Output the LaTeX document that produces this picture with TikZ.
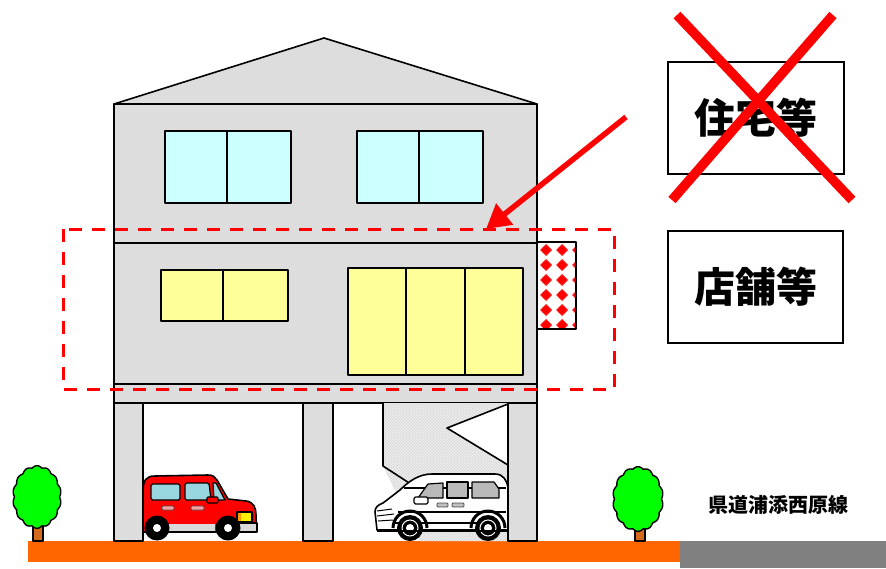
\documentclass[tikz,border=0pt]{standalone}
\usepackage{fontspec}
\newfontfamily\jp{Noto Sans CJK JP}
\usetikzlibrary{arrows.meta,patterns}

\definecolor{wallgray}{HTML}{DDDDDD}
\definecolor{glasscyan}{HTML}{CCFFFF}
\definecolor{glassyellow}{HTML}{FFFF99}
\definecolor{groundorange}{HTML}{FF6600}
\definecolor{roadgray}{HTML}{808080}
\definecolor{leafgreen}{HTML}{00FF00}
\definecolor{trunkbrown}{HTML}{D2691E}
\definecolor{carglass}{HTML}{99D6E0}
\definecolor{handlepink}{HTML}{F4A0A0}

\tikzset{
  outline/.style={draw=black, line width=1.6pt, line join=round},
  wall/.style={outline, fill=wallgray},
  cyanpane/.style={outline, fill=glasscyan},
  yellowpane/.style={outline, fill=glassyellow},
  frameline/.style={draw=red, line width=3pt, dash pattern=on 13pt off 10pt},
  labelbox/.style={draw=black, line width=1.6pt, fill=white, inner sep=0pt,
    font=\jp\bfseries\fontsize{41}{41}\selectfont},
  crossline/.style={draw=red, line width=9.5pt},
  pointer/.style={draw=red, line width=5.5pt, -{Triangle[length=24pt,width=26pt]}},
  wheel/.style={fill=black},
}

\begin{document}
\begin{tikzpicture}[x=1pt, y=-1pt]
\useasboundingbox (0,0) rectangle (886,568);

% ground and road
\fill[groundorange] (28,541) rectangle (680,562);
\fill[roadgray] (680,541) rectangle (886,568);

% roof and building body
\draw[wall] (114,104) -- (324,38) -- (537,104) -- cycle;
\draw[wall] (114,104) rectangle (537,403);
\draw[outline] (114,243) -- (537,243);
\draw[outline] (114,384) -- (537,384);

% third floor windows
\draw[cyanpane] (165,131) rectangle (291,203);
\draw[outline] (227,131) -- (227,203);
\draw[cyanpane] (357,131) rectangle (483,203);
\draw[outline] (419,131) -- (419,203);

% second floor windows
\draw[yellowpane] (161,270) rectangle (288,321);
\draw[outline] (223,270) -- (223,321);
\draw[yellowpane] (348,268) rectangle (523,375);
\draw[outline] (406,268) -- (406,375);
\draw[outline] (465,268) -- (465,375);

% shop sign
\fill[white] (537,242) rectangle (576,329);
\begin{scope}
  \clip (537,242) rectangle (576,329);
  \foreach \sx in {546,562,578} {
    \foreach \sy in {250,265,280,295,310,325} {
      \fill[red!90!white] (\sx,\sy-6) -- (\sx+6,\sy) -- (\sx,\sy+6) -- (\sx-6,\sy) -- cycle;
      \fill[red] (\sx,\sy) circle (4);
    }
  }
\end{scope}
\draw[outline] (537,242) rectangle (576,329);

% stairway under the building
\fill[gray!30] (383,403) -- (508,403) -- (447,428) -- (508,465) -- (508,541) -- (420,541) -- (383,466) -- cycle;
\fill[pattern=crosshatch, pattern color=gray!12] (383,403) -- (508,403) -- (447,428) -- (508,465) -- (508,541) -- (420,541) -- (383,466) -- cycle;
\draw[outline] (383,403) -- (383,466) -- (420,490);
\draw[outline] (508,404) -- (447,428) -- (508,465);

% pillars
\draw[wall] (114,403) rectangle (143,541);
\draw[wall] (303,403) rectangle (333,541);
\draw[wall] (508,403) rectangle (537,541);

% red car
\draw[outline, fill=red] (143,532) -- (143,492) .. controls (143,480) and (146,476) .. (155,476)
  -- (208,475) .. controls (213,475) and (215,477) .. (217,480) -- (228,499)
  -- (246,501) .. controls (254,502) and (256,508) .. (256,515) -- (256,532) -- cycle;
\draw[outline, fill=carglass, line width=1.2pt, rounded corners=1.5pt] (151,484) rectangle (180,500);
\draw[outline, fill=carglass, line width=1.2pt, rounded corners=1.5pt] (185,483) -- (209,483) -- (211,500) -- (185,500) -- cycle;
\draw[outline, fill=carglass, line width=1.2pt] (213,483) -- (216,483) -- (225,500) -- (214,500) -- cycle;
\draw[outline, fill=red, line width=1.2pt, rounded corners=1pt] (207,497) rectangle (218,503);
\draw[draw=black!70, fill=handlepink, line width=0.8pt, rounded corners=1pt] (162,506) rectangle (174,510);
\draw[draw=black!70, fill=handlepink, line width=0.8pt, rounded corners=1pt] (191,506) rectangle (204,510);
\fill[gray!30] (160,524) rectangle (215,532);
\draw[outline, fill=gray!30, line width=1.2pt] (238,523) -- (257,523) -- (257,532) -- (238,532);
\draw[outline, fill=yellow, line width=1.2pt] (237,512) rectangle (252,522);
\fill[orange!80!yellow] (237.8,512.8) rectangle (241,521.2);
\draw[line width=1.8pt] (143,532) -- (257,532);
\foreach \wx in {157,228} {
  \fill[wheel] (\wx,528) circle (12.5);
  \fill[white] (\wx,528) circle (4);
}

% white van
\draw[outline, fill=white] (377,530) -- (375,512) .. controls (375,507) and (378,505) .. (383,503)
  -- (400,490) .. controls (410,480) and (420,474) .. (432,474)
  -- (495,474) .. controls (503,474) and (507,480) .. (508,488) -- (508,530) -- cycle;
\draw[line width=1.2pt] (404,488) -- (506,488);
\draw[outline, fill=gray!55, line width=1.2pt] (418,498) -- (428,484) -- (443,483) -- (443,498) -- cycle;
\draw[outline, fill=gray!55, line width=1.2pt] (447,482) rectangle (468,498);
\draw[outline, fill=gray!55, line width=1.2pt] (472,482) -- (494,482) -- (499,489) -- (499,498) -- (472,498) -- cycle;
\draw[outline, fill=white, line width=1.2pt, rounded corners=1.5pt] (414,497) rectangle (428,504);
\draw[draw=black!70, fill=gray!50, line width=0.8pt, rounded corners=1pt] (437,503) rectangle (448,507);
\draw[draw=black!70, fill=gray!50, line width=0.8pt, rounded corners=1pt] (452,503) rectangle (464,507);
\draw[line width=1pt] (377,511) -- (392,509);
\draw[line width=1pt] (377,516) -- (394,514);
\draw[line width=1pt] (378,521) -- (393,520);
\draw[line width=1.2pt] (398,512) -- (506,512);
\draw[line width=1.2pt] (394,523) -- (478,523);
\foreach \wx in {410,488} {
  \draw[line width=3pt] ([shift={(180:17)}]\wx,528) arc[start angle=180, end angle=360, radius=17];
  \fill[wheel] (\wx,528) circle (13);
  \draw[white, line width=1pt] (\wx,528) circle (8);
  \fill[white] (\wx,528) circle (4);
}
\draw[line width=1.8pt] (377,531) -- (508,531);

% trees
\draw[outline, fill=trunkbrown, line width=1.2pt] (33,522) rectangle (43,541);
\draw[outline, fill=leafgreen, line width=1.4pt] plot[domain=0:358, samples=180, variable=\t]
  ({37+24*(0.94+0.07*abs(sin(7*\t)))*cos(\t)}, {497+31*(0.95+0.06*abs(sin(7*\t)))*sin(\t)}) -- cycle;
\draw[outline, fill=trunkbrown, line width=1.2pt] (635,524) rectangle (645,541);
\draw[outline, fill=leafgreen, line width=1.4pt] plot[domain=0:358, samples=180, variable=\t]
  ({638+25*(0.94+0.07*abs(sin(7*\t)))*cos(\t)}, {499+32*(0.95+0.06*abs(sin(7*\t)))*sin(\t)}) -- cycle;

% shop floor frame and pointer
\draw[frameline] (63,229) rectangle (614,389);
\coordinate (pointertail) at (626,117);
\coordinate (frametop) at (486,229);
\draw[pointer] (pointertail) -- (frametop);

% use labels
\node[labelbox, minimum width=176pt, minimum height=112pt] (housing) at (756,118) {住宅等};
\node[labelbox, minimum width=175pt, minimum height=112pt] (shops) at (755.5,287) {店舗等};
\draw[crossline] (677,15) -- (852,200);
\draw[crossline] (833,15) -- (672,200);

% road name
\node[font=\jp\bfseries\fontsize{20}{20}\selectfont, inner sep=0pt] (roadname) at (778,505) {県道浦添西原線};

\end{tikzpicture}
\end{document}
